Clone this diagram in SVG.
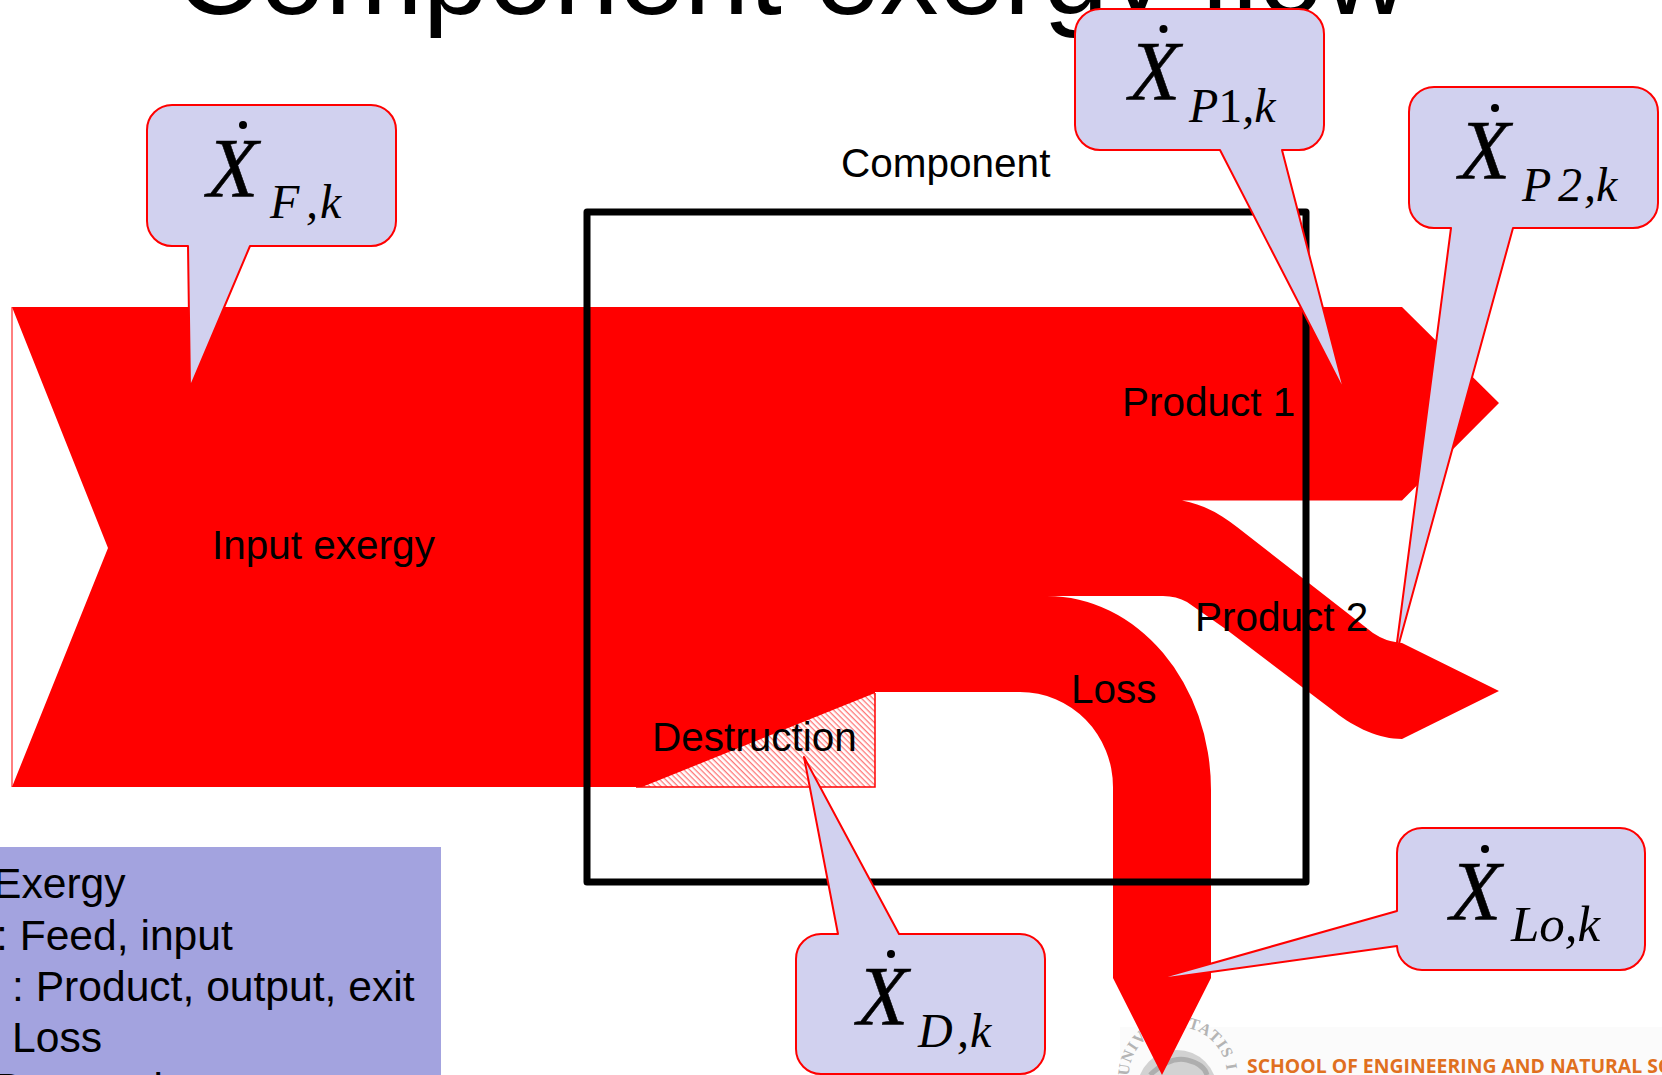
<svg xmlns="http://www.w3.org/2000/svg" width="1662" height="1075" viewBox="0 0 1662 1075">
<style>
.s{font-family:"Liberation Sans",Arial,sans-serif;font-size:40.5px;fill:#000}
.leg{font-family:"Liberation Sans",Arial,sans-serif;font-size:42.6px;fill:#000}
.m{font-family:"Liberation Serif","Times New Roman",serif;font-style:italic;fill:#000}
.x{font-size:84px;stroke:#000;stroke-width:.5}
.u{font-size:48px}
.c{fill:#D1D1EF;stroke:#f00;stroke-width:2;stroke-linejoin:round}
</style>
<defs>
<pattern id="hatch" width="4" height="4" patternUnits="userSpaceOnUse" patternTransform="rotate(45)">
<rect width="4" height="4" fill="#fff"/>
<rect width="4" height="1.3" fill="#f77"/>
</pattern>
</defs>
<rect width="1662" height="1075" fill="#fff"/>
<text id="title" x="175" y="14" font-family="Liberation Sans,Arial,sans-serif" font-size="117.400">Component exergy flow</text>
<g id="logo">
<rect x="1120" y="1027" width="542" height="48" fill="#fbfbfb"/>
<circle cx="1177" cy="1090" r="40" fill="#d2d2d2"/>
<path d="M1150 1075Q1170 1056 1187 1060T1207 1075" fill="none" stroke="#aeaeae" stroke-width="5"/>
<path id="sealArc" d="M1129 1076A49 49 0 0 1 1227 1076" fill="none"/>
<text font-family="Liberation Serif,serif" font-weight="700" font-size="16" fill="#b4b4b4" letter-spacing="1"><textPath href="#sealArc">UNIVERSITATIS I</textPath></text>
<text x="1247" y="1073" font-family="Open Sans,sans-serif" font-weight="700" font-size="19.400" fill="#E0701F">SCHOOL OF ENGINEERING AND NATURAL SCI</text>
</g>
<g id="connectors">
<path id="flow" fill="#f00" d="M12 307H1402L1499 403L1402 500.5H1182C1205 505 1222 515 1237 527L1373 633C1382 639 1391 642 1402 643L1499 691L1402 739C1380 739 1355 728 1335 712L1227 630L1187 602C1180 598 1172 596 1163 596H1047A164 194 0 0 1 1211 790V978L1162 1075L1113 978V787A93 95 0 0 0 1020 692H875V787H12L108 548Z"/>
<path id="destruction-flow" fill="url(#hatch)" d="M642 787L875 693V787Z"/>
<path fill="none" stroke="#f00" stroke-width="1.5" d="M875 693V787H636"/>
<path fill="none" stroke="#f00" stroke-width="1" d="M12 307V787"/>
</g>
<rect id="component-box" x="587" y="212" width="719" height="670" fill="none" stroke="#000" stroke-width="7" stroke-linejoin="round"/>
<g id="labels">
<text class="s" x="841" y="177">Component</text>
<text class="s" x="212" y="559">Input exergy</text>
<text class="s" x="1122" y="416">Product 1</text>
<text class="s" x="1195" y="631">Product 2</text>
<text class="s" x="1071" y="703">Loss</text>
<text class="s" x="652" y="751">Destruction</text>
</g>
<g id="legend">
<rect y="847" width="441" height="228" fill="#A3A3DF"/>
<text class="leg" x="-7" y="898">Exergy</text>
<text class="leg" x="-4" y="950">: Feed, input</text>
<text class="leg" x="12" y="1001">: Product, output, exit</text>
<text class="leg" x="12" y="1052">Loss</text>
<text class="leg" x="-5" y="1103">Destruction</text>
</g>
<g id="callout-f">
<path class="c" d="M172 105H371A25 25 0 0 1 396 130V221A25 25 0 0 1 371 246H250L190 388L188 246H172A25 25 0 0 1 147 221V130A25 25 0 0 1 172 105Z"/>
<circle cx="243" cy="125" r="4"/>
<text class="m x" x="207" y="197">X</text>
<text class="m u" x="270" y="218">F</text><text class="m u" x="306" y="218">,</text><text class="m u" x="320" y="218">k</text>
</g>
<g id="callout-p1">
<path class="c" d="M1100 9H1299A25 25 0 0 1 1324 34V125A25 25 0 0 1 1299 150H1282L1345 393L1220 150H1100A25 25 0 0 1 1075 125V34A25 25 0 0 1 1100 9Z"/>
<circle cx="1163.500" cy="29" r="4"/>
<text class="m x" x="1129" y="100">X</text>
<text class="m u" x="1189" y="122">P<tspan font-style="normal">1</tspan>,k</text>
</g>
<g id="callout-p2">
<path class="c" d="M1434 87H1633A25 25 0 0 1 1658 112V203A25 25 0 0 1 1633 228H1513L1395 658L1451 228H1434A25 25 0 0 1 1409 203V112A25 25 0 0 1 1434 87Z"/>
<circle cx="1495" cy="108" r="4"/>
<text class="m x" x="1459" y="179">X</text>
<text class="m u" x="1522" y="201">P</text><text class="m u" x="1558" y="201" font-style="normal">2</text><text class="m u" x="1584" y="201">,k</text>
</g>
<g id="callout-lo">
<path class="c" d="M1422 828H1620A25 25 0 0 1 1645 853V945A25 25 0 0 1 1620 970H1422A25 25 0 0 1 1397 946L1153 980L1397 911V853A25 25 0 0 1 1422 828Z"/>
<circle cx="1485" cy="849" r="4"/>
<text class="m x" x="1450" y="920">X</text>
<text class="m u" x="1511" y="941" style="font-size:51px">Lo,k</text>
</g>
<g id="callout-d">
<path class="c" d="M821 934H838L804 757L899 934H1020A25 25 0 0 1 1045 959V1049A25 25 0 0 1 1020 1074H821A25 25 0 0 1 796 1049V959A25 25 0 0 1 821 934Z"/>
<circle cx="891" cy="954" r="4"/>
<text class="m x" x="857" y="1025">X</text>
<text class="m u" x="918" y="1047">D</text><text class="m u" x="957" y="1047">,</text><text class="m u" x="970" y="1047">k</text>
</g>
</svg>
